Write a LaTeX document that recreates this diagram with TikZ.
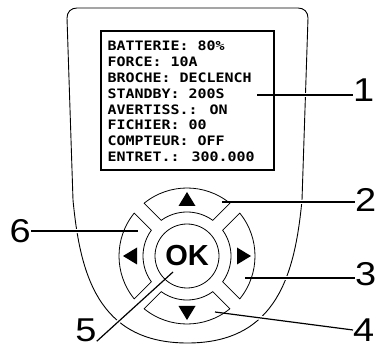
\documentclass[tikz,border=0pt]{standalone}
\usepackage{fontspec}
\newfontfamily\screenfont[FakeStretch=1.15]{DejaVu Sans Mono}
\newfontfamily\calloutfont[FakeStretch=1.15]{Liberation Sans}
\newfontfamily\okfont{Liberation Sans}

\begin{document}
\begin{tikzpicture}[
    x=1pt, y=1pt,
    body/.style={draw, line width=0.9pt},
    screen/.style={draw, line width=1.2pt},
    key/.style={draw, line width=0.8pt},
    leader/.style={
        line width=1.2pt,
        preaction={draw=white, line width=4pt}
    },
    callout/.style={
        inner sep=0pt,
        font=\calloutfont\fontsize{33}{36}\selectfont
    },
    lcdtext/.style={
        anchor=base west,
        inner sep=0pt,
        font=\screenfont\bfseries\fontsize{13}{16}\selectfont
    }
]
\useasboundingbox (0,0) rectangle (380,348);

% === BOITIER ===
\draw[body] (73,148) -- (67,330) .. controls (67,336) and (71,340) .. (77,340)
    -- (298,340) .. controls (304,340) and (308,336) .. (308,330)
    -- (302,148) .. controls (295,75) and (277.5,5) .. (187.5,5)
    .. controls (97.5,5) and (80,75) .. (73,148) -- cycle;

% centre du pave
\coordinate (C) at (187,92);

% departs des reperes
\coordinate (p1) at (257,253);
\coordinate (p2) at (222,146);
\coordinate (p3) at (245,70);
\coordinate (p4) at (215,36);
\coordinate (p5) at (173,76);
\coordinate (p6) at (138,117);

% === REPERES ===
\node[callout, anchor=west] (n1) at (353,258) {1};
\node[callout, anchor=west] (n2) at (355,148) {2};
\node[callout, anchor=west] (n3) at (355,73.5) {3};
\node[callout, anchor=west] (n4) at (353,18) {4};
\node[callout] (n5) at (86,17.5) {5};
\node[callout, anchor=east] (n6) at (31,117) {6};

\draw[leader] (p1) -- (p1 -| n1.west);
\draw[leader] (p2) -- (p2 -| n2.west);
\draw[leader] (p3) -- (p3 -| n3.west);
\draw[leader] (p4) -- (n4.west);
\draw[leader] (p5) -- (n5.-45);
\draw[leader] (n6) -- (p6);

% === ECRAN ===
\draw[screen] (101,178) rectangle (274,317);
\foreach \txt [count=\i] in {BATTERIE: 80\%, FORCE: 10A, BROCHE: DECLENCH,
    STANDBY: 200S, AVERTISS.: ON, FICHIER: 00, COMPTEUR: OFF, ENTRET.: 300.000}
    \node[lcdtext] (ln\i) at (107.5,297-15.8*\i+15.8) {\txt};

% === PAVE DE NAVIGATION ===
\foreach \a in {0,90,180,270} {
    \draw[key, shift={(C)}] (\a-39.1:68) arc[start angle=\a-39.1, end angle=\a+39.1, radius=68]
        -- (\a+35.85:44) arc[start angle=\a+35.85, end angle=\a-35.85, radius=44] -- cycle;
    \fill[shift={(C)}, rotate=\a] (64,0) -- (50,8.5) -- (50,-8.5) -- cycle;
}

% bouton OK
\draw[key] (C) circle[radius=32];
\node[font=\okfont\bfseries\fontsize{29}{32}\selectfont, inner sep=0pt] (ok) at (C) {OK};

\end{tikzpicture}
\end{document}
